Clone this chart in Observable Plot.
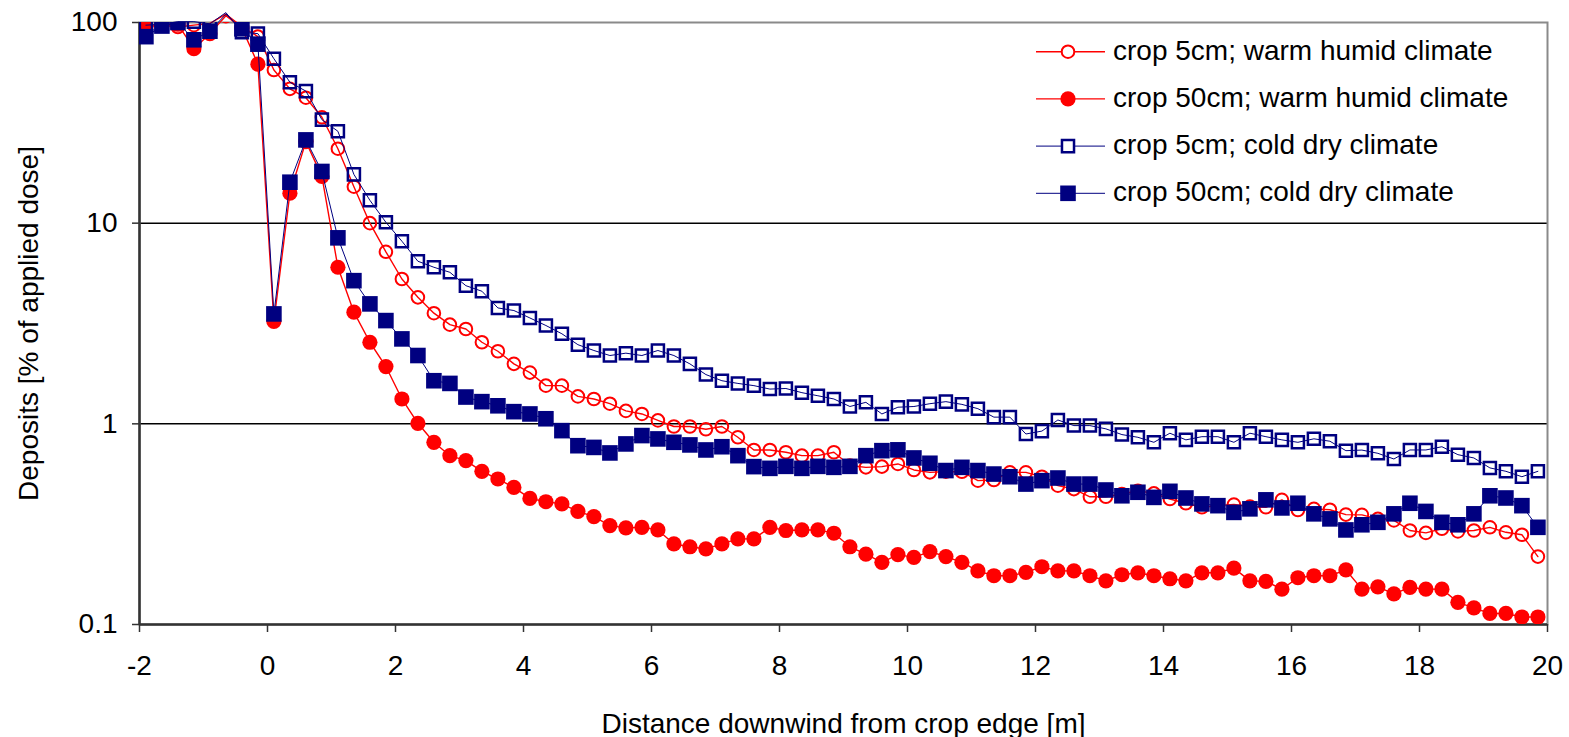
<!DOCTYPE html>
<html>
<head>
<meta charset="utf-8">
<script src="https://cdn.jsdelivr.net/npm/d3@7"></script>
<script src="https://cdn.jsdelivr.net/npm/@observablehq/plot@0.6"></script>
<style>
  html, body { margin: 0; padding: 0; background: #ffffff; }
  #wrap { position: relative; width: 1569px; height: 737px; font-family: "Liberation Sans", Arial, sans-serif; }
  #wrap > svg { position: absolute; left: 0; top: 0; }
</style>
</head>
<body>
<div id="wrap"></div>
<script>
// ---- data ----
const distance = [-1.9,-1.65,-1.4,-1.15,-0.9,-0.65,-0.4,-0.15,0.1,0.35,0.6,0.85,1.1,1.35,1.6,1.85,2.1,2.35,2.6,2.85,3.1,3.35,3.6,3.85,4.1,4.35,4.6,4.85,5.1,5.35,5.6,5.85,6.1,6.35,6.6,6.85,7.1,7.35,7.6,7.85,8.1,8.35,8.6,8.85,9.1,9.35,9.6,9.85,10.1,10.35,10.6,10.85,11.1,11.35,11.6,11.85,12.1,12.35,12.6,12.85,13.1,13.35,13.6,13.85,14.1,14.35,14.6,14.85,15.1,15.35,15.6,15.85,16.1,16.35,16.6,16.85,17.1,17.35,17.6,17.85,18.1,18.35,18.6,18.85,19.1,19.35,19.6,19.85];

const crop5Warm = [97,97,95,97,99,110,95.5,85,58,46.7,42.2,33.7,23.5,15.2,10.0,7.2,5.27,4.27,3.56,3.12,2.97,2.55,2.30,1.99,1.80,1.55,1.55,1.37,1.33,1.26,1.16,1.12,1.04,0.97,0.97,0.94,0.97,0.857,0.741,0.741,0.722,0.694,0.694,0.722,0.62,0.607,0.612,0.631,0.589,0.573,0.578,0.577,0.521,0.525,0.573,0.573,0.545,0.492,0.473,0.433,0.433,0.447,0.464,0.45,0.422,0.402,0.384,0.391,0.396,0.387,0.384,0.418,0.372,0.377,0.373,0.353,0.352,0.336,0.33,0.294,0.286,0.30,0.291,0.294,0.305,0.288,0.28,0.218];

const crop50Warm = [95,97,98,74,88,108,94,62,3.24,14.1,25.5,17.1,6.03,3.6,2.55,1.93,1.33,1.006,0.809,0.694,0.656,0.58,0.531,0.482,0.425,0.409,0.399,0.366,0.345,0.311,0.303,0.305,0.296,0.252,0.244,0.238,0.252,0.267,0.267,0.305,0.294,0.296,0.296,0.285,0.244,0.224,0.204,0.223,0.216,0.231,0.218,0.204,0.185,0.175,0.175,0.182,0.194,0.185,0.185,0.175,0.165,0.177,0.181,0.175,0.169,0.165,0.181,0.181,0.191,0.165,0.164,0.15,0.171,0.175,0.175,0.187,0.15,0.154,0.142,0.153,0.15,0.15,0.129,0.121,0.1135,0.1135,0.109,0.109];

const crop5Cold = [97,98,101,101,98.5,112,89.5,88,66,50.4,45.5,32.8,28.7,17.5,13.0,10.1,8.13,6.46,6.03,5.69,4.88,4.58,3.78,3.67,3.37,3.09,2.81,2.48,2.32,2.19,2.25,2.19,2.32,2.19,1.99,1.76,1.64,1.59,1.55,1.49,1.50,1.43,1.38,1.33,1.22,1.28,1.12,1.21,1.22,1.26,1.29,1.25,1.19,1.08,1.08,0.89,0.92,1.045,0.98,0.98,0.944,0.884,0.857,0.809,0.898,0.832,0.863,0.863,0.809,0.898,0.863,0.832,0.809,0.842,0.819,0.735,0.74,0.713,0.668,0.741,0.741,0.769,0.702,0.676,0.603,0.58,0.545,0.58];

const crop50Cold = [85,96,100,82,90.5,110,93,78,3.53,16.0,26.0,18.1,8.45,5.17,3.96,3.27,2.65,2.19,1.64,1.59,1.36,1.29,1.23,1.15,1.12,1.06,0.925,0.778,0.763,0.716,0.794,0.874,0.841,0.809,0.785,0.741,0.769,0.694,0.612,0.60,0.614,0.60,0.614,0.607,0.614,0.694,0.735,0.742,0.676,0.636,0.585,0.607,0.585,0.562,0.545,0.501,0.521,0.537,0.501,0.501,0.468,0.438,0.456,0.43,0.461,0.427,0.399,0.391,0.362,0.377,0.418,0.381,0.402,0.356,0.336,0.296,0.314,0.323,0.356,0.402,0.366,0.323,0.314,0.356,0.438,0.427,0.391,0.305];

const seriesNames = [
  "crop 5cm; warm humid climate",
  "crop 50cm; warm humid climate",
  "crop 5cm; cold dry climate",
  "crop 50cm; cold dry climate"
];
const xTicks = [-2, 0, 2, 4, 6, 8, 10, 12, 14, 16, 18, 20];
const yTicks = [0.1, 1, 10, 100];
const gridLines = [1, 10];
const xTitle = "Distance downwind from crop edge [m]";
const yTitle = "Deposits [% of applied dose]";

// ---- styles ----
const RED = "#ff0000", NAVY = "#000080";
const FONT = "\"Liberation Sans\", Arial, sans-serif";
const seriesValues = [crop5Warm, crop50Warm, crop5Cold, crop50Cold];
const seriesStyle = [
  {color: RED,  symbol: "circle", filled: false, r: 6.3, sw: 2,   lw: 1.4},
  {color: RED,  symbol: "circle", filled: true,  r: 7.6, sw: 0,   lw: 1.4},
  {color: NAVY, symbol: "square", filled: false, r: 6.8, sw: 2.5, lw: 1},
  {color: NAVY, symbol: "square", filled: true,  r: 8.8, sw: 0,   lw: 1}
];

const tables = seriesValues.map((vals, i) =>
  distance.map((d, k) => ({x: d, v: vals[k], series: seriesNames[i]})));

const seriesMarks = tables.flatMap((rows, i) => {
  const s = seriesStyle[i];
  return [
    Plot.line(rows, {x: "x", y: "v", stroke: s.color, strokeWidth: s.lw}),
    Plot.dot(rows, {
      x: "x", y: "v", symbol: s.symbol, r: s.r, clip: true,
      fill: s.filled ? s.color : "none",
      stroke: s.filled ? "none" : s.color,
      strokeWidth: s.sw
    })
  ];
});

const chart = Plot.plot({
  width: 1569,
  height: 737,
  marginLeft: 139,
  marginRight: 22,
  marginTop: 22,
  marginBottom: 113,
  style: {fontFamily: FONT, fontSize: "28px", color: "#000", background: "#fff", overflow: "visible"},
  x: {domain: [-2, 20]},
  y: {type: "log", domain: [0.1, 100]},
  marks: [
    Plot.ruleY(gridLines, {stroke: "#000", strokeWidth: 1.5}),
    Plot.frame({stroke: "#8a8a8a", strokeWidth: 2}),
    Plot.ruleX([-2], {stroke: "#333", strokeWidth: 2.5}),
    Plot.ruleY([0.1], {stroke: "#333", strokeWidth: 2.5}),
    ...seriesMarks,
    Plot.axisX({ticks: xTicks, tickSize: 8, tickPadding: 23, fontSize: 28, label: null,
      tickFormat: d => String(d), stroke: "#333", strokeWidth: 1.5}),
    Plot.axisY({ticks: yTicks, tickSize: 7, tickPadding: 15, fontSize: 28, label: null,
      tickFormat: d => String(d), stroke: "#333", strokeWidth: 1.5}),
    Plot.text([xTitle], {frameAnchor: "bottom", dy: 100, fontSize: 28, textAnchor: "middle", lineAnchor: "middle", fill: "#000"}),
    Plot.text([yTitle], {frameAnchor: "left", dx: -110, rotate: -90, fontSize: 28, textAnchor: "middle", lineAnchor: "middle", fill: "#000"})
  ]
});

const wrap = document.getElementById("wrap");
wrap.appendChild(chart);

// ---- legend (overlay, top right inside the plot area) ----
const legend = d3.create("svg")
  .attr("width", 1569).attr("height", 737)
  .style("position", "absolute").style("left", "0px").style("top", "0px")
  .style("pointer-events", "none")
  .attr("font-family", FONT).attr("font-size", 28);

seriesNames.forEach((name, i) => {
  const s = seriesStyle[i];
  const cy = 51.7 + 47.2 * i;
  const g = legend.append("g");
  g.append("line").attr("x1", 1036).attr("x2", 1105).attr("y1", cy).attr("y2", cy)
    .attr("stroke", s.color).attr("stroke-width", s.lw);
  const type = s.symbol === "circle" ? d3.symbolCircle : d3.symbolSquare;
  g.append("path")
    .attr("d", d3.symbol(type, Math.PI * s.r * s.r)())
    .attr("transform", `translate(1068,${cy})`)
    .attr("fill", s.filled ? s.color : "#fff")
    .attr("stroke", s.filled ? "none" : s.color)
    .attr("stroke-width", s.sw);
  g.append("text").attr("x", 1113).attr("y", cy + 8).attr("fill", "#000").text(name);
});
wrap.appendChild(legend.node());
</script>
</body>
</html>
